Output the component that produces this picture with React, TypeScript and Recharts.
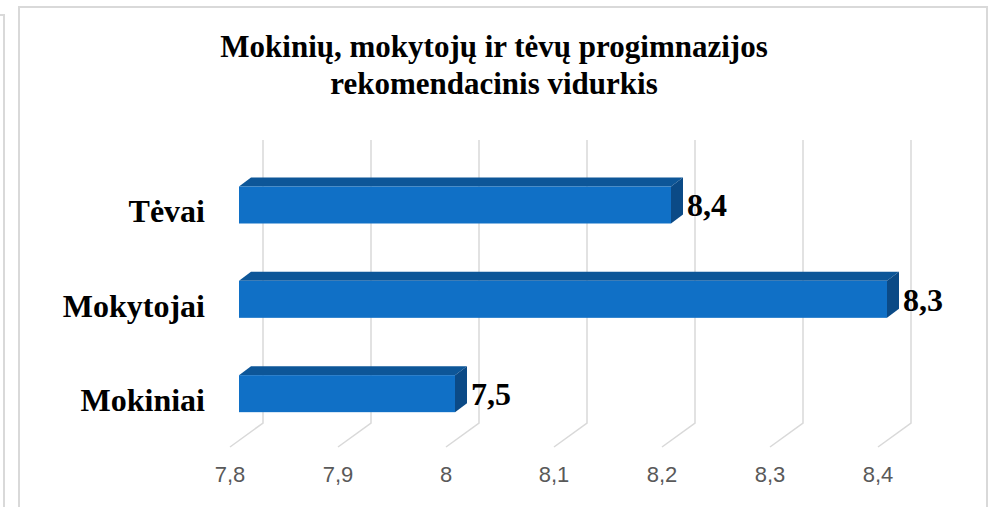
import React from "react";
import { BarChart, Bar, XAxis, YAxis, CartesianGrid, LabelList } from "recharts";

const categories = ["Tėvai", "Mokytojai", "Mokiniai"];
const values = [8.2, 8.4, 8.0];
const valueLabels = ["8,4", "8,3", "7,5"];
const xTicks = [7.8, 7.9, 8, 8.1, 8.2, 8.3, 8.4];

const data = categories.map((name, i) => ({ name, value: values[i], label: valueLabels[i] }));

// 3d look: back wall offset and bar depth
const BACK_DX = 33;
const BACK_DY = -24;
const BAR_SHIFT_X = 9;
const BAR_SHIFT_Y = -6.5;
const DEPTH_DX = 12;
const DEPTH_DY = -9;

const SERIF = "'Liberation Serif', 'Times New Roman', serif";
const SANS = "'Liberation Sans', Arial, sans-serif";

function Bar3D(props: any) {
  const { x, y, width, height } = props;
  if (width == null || width <= 0) return null;
  const fx = x + BAR_SHIFT_X;
  const fy = y + BAR_SHIFT_Y;
  const top = `${fx},${fy} ${fx + DEPTH_DX},${fy + DEPTH_DY} ${fx + width + DEPTH_DX},${fy + DEPTH_DY} ${fx + width},${fy}`;
  const side = `${fx + width},${fy} ${fx + width + DEPTH_DX},${fy + DEPTH_DY} ${fx + width + DEPTH_DX},${fy + height + DEPTH_DY} ${fx + width},${fy + height}`;
  return (
    <g>
      <polygon points={top} fill="#0d5698" />
      <polygon points={side} fill="#0b4a86" />
      <rect x={fx} y={fy} width={width} height={height} fill="#1070c6" />
    </g>
  );
}

function GridLine3D(props: any) {
  const { x1, y1, y2 } = props;
  const d = `M${x1 + BACK_DX},${y1 + BACK_DY} L${x1 + BACK_DX},${y2 + BACK_DY} L${x1},${y2}`;
  return <path key={`g-${x1}`} d={d} stroke="#d9d9d9" strokeWidth={1.5} fill="none" />;
}

function XTick(props: any) {
  const { x, y, payload } = props;
  return (
    <text x={x} y={y + 27} textAnchor="middle" fontFamily={SANS} fontSize={22} fill="#595959">
      {String(payload.value).replace(".", ",")}
    </text>
  );
}

function YTick(props: any) {
  const { x, y, payload } = props;
  return (
    <text x={x - 17} y={y} dy="0.35em" textAnchor="end" fontFamily={SERIF} fontWeight="bold" fontSize={32} fill="#000">
      {payload.value}
    </text>
  );
}

function ValueLabel(props: any) {
  const { x, y, width, height, value } = props;
  return (
    <text
      x={x + width + BAR_SHIFT_X + DEPTH_DX + 4}
      y={y + height / 2 + BAR_SHIFT_Y}
      dy="0.35em"
      fontFamily={SERIF}
      fontWeight="bold"
      fontSize={32}
      fill="#000"
    >
      {value}
    </text>
  );
}

export default function App() {
  return (
    <div style={{ position: "absolute", left: 0, top: 0, width: 993, height: 507, background: "#fff", overflow: "hidden" }}>
      <div style={{ position: "absolute", left: -10, top: 14, width: 13, height: 600, borderRight: "2px solid #d9d9d9", borderTop: "2px solid #d9d9d9" }} />
      <div style={{ position: "absolute", left: 18, top: 6, width: 966, height: 600, border: "2px solid #d9d9d9" }} />
      <div
        style={{
          position: "absolute",
          left: 11,
          width: 966,
          top: 28,
          textAlign: "center",
          fontFamily: SERIF,
          fontWeight: "bold",
          fontSize: 31,
          lineHeight: "37px",
          color: "#000",
        }}
      >
        Mokinių, mokytojų ir tėvų progimnazijos
        <br />
        rekomendacinis vidurkis
      </div>
      <div style={{ position: "absolute", left: 0, top: 0 }}>
        <BarChart
          width={993}
          height={507}
          data={data}
          layout="vertical"
          margin={{ top: 164, right: 115, bottom: 0, left: 0 }}
          barCategoryGap={0}
        >
          <CartesianGrid horizontal={false} vertical={(p: any) => <GridLine3D {...p} />} />
          <XAxis
            type="number"
            domain={[7.8, 8.4]}
            ticks={xTicks}
            height={60}
            axisLine={false}
            tickLine={false}
            tick={<XTick />}
          />
          <YAxis type="category" dataKey="name" width={230} axisLine={false} tickLine={false} tick={<YTick />} />
          <Bar dataKey="value" barSize={37} shape={<Bar3D />} isAnimationActive={false}>
            <LabelList dataKey="label" content={<ValueLabel />} />
          </Bar>
        </BarChart>
      </div>
    </div>
  );
}
